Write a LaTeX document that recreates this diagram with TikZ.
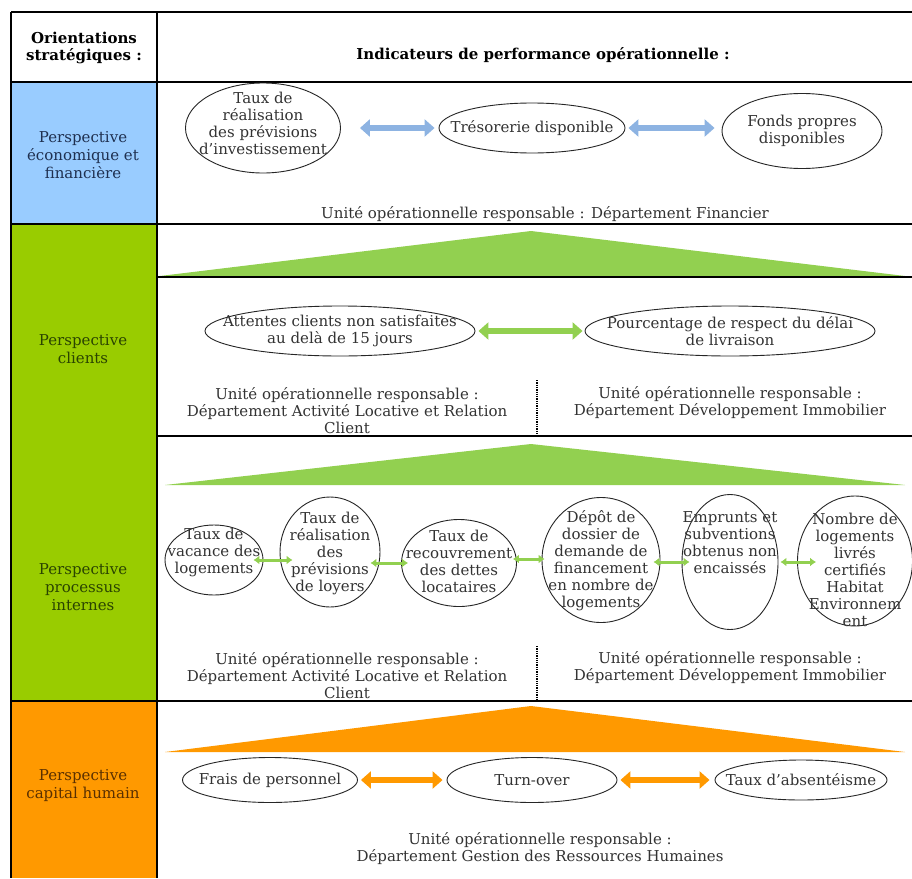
\documentclass[tikz,border=0pt]{standalone}
\usepackage{fontspec}
\setmainfont{DejaVu Serif}
\usetikzlibrary{shapes.geometric,arrows.meta}
\definecolor{cblue}{HTML}{99CCFF}
\definecolor{cgreen}{HTML}{99CC00}
\definecolor{tgreen}{HTML}{92D050}
\definecolor{corange}{HTML}{FF9900}
\definecolor{ablue}{HTML}{8DB3E2}
\definecolor{txtgray}{HTML}{333333}
\definecolor{lblblue}{HTML}{1F3050}
\definecolor{lblgreen}{HTML}{2A4400}
\definecolor{lblorange}{HTML}{5A3000}
\begin{document}
\begin{tikzpicture}[x=1pt,y=-1pt,
  ell/.style={ellipse, draw=black!85, line width=0.9pt, fill=white, inner sep=0pt},
  txt/.style={align=center, font=\fontsize{15}{17}\selectfont, text=txtgray, inner sep=0pt},
  head/.style={align=center, font=\bfseries\fontsize{15}{17}\selectfont, text=black, inner sep=0pt},
  side/.style={align=center, font=\fontsize{15}{18}\selectfont, inner sep=0pt},
  rule/.style={line width=1.1pt, black},
  fatarrow/.style={line width=6pt, {Triangle[length=10pt,width=17pt]}-{Triangle[length=10pt,width=17pt]}},
  thinarrow/.style={line width=3pt, tgreen, {Latex[length=6pt,width=9pt]}-{Latex[length=6pt,width=9pt]}},
  sepline/.style={line width=1.3pt, densely dotted, black}
]
\useasboundingbox (0,0) rectangle (912,878);
\fill[white] (0,0) rectangle (912,878);

% left column fills
\fill[cblue] (11,82) rectangle (157,224);
\fill[cgreen] (11,224) rectangle (157,701);
\fill[corange] (11,701) rectangle (157,878);

% triangles
\fill[tgreen] (160,276) -- (531,231) -- (905,276) -- cycle;
\fill[tgreen] (165,485) -- (531,444) -- (905,485) -- cycle;
\fill[corange] (165,752) -- (531,706) -- (905,752) -- cycle;

% table rules
\draw[rule] (11,12) -- (912,12);
\draw[rule] (11,82) -- (912,82);
\draw[rule] (11,224) -- (912,224);
\draw[rule] (157,277) -- (912,277);
\draw[rule] (157,436) -- (912,436);
\draw[rule] (11,701) -- (912,701);
\draw[rule] (11,12) -- (11,878);
\draw[rule] (157,12) -- (157,878);

% header
\node[head] (h1) at (84,48) {Orientations\\stratégiques :};
\node[head] (h2) at (543,55) {Indicateurs de performance opérationnelle :};

% side labels
\node[side, text=lblblue] (s1) at (83,155) {Perspective\\économique et\\financière};
\node[side, text=lblgreen] (s2) at (83,349) {Perspective\\clients};
\node[side, text=lblgreen] (s3) at (83,587) {Perspective\\processus\\internes};
\node[side, text=lblorange] (s4) at (83,786) {Perspective\\capital humain};

% economic / financial
\node[ell, minimum width=155pt, minimum height=90pt] (e1) at (263,128) {};
\node[txt] (e1t) at (263,123) {Taux de\\réalisation\\des prévisions\\d’investissement};
\node[ell, minimum width=186pt, minimum height=50pt] (e2) at (532,128) {};
\node[txt] (e2t) at (532,128) {Trésorerie disponible};
\node[ell, minimum width=160pt, minimum height=75pt] (e3) at (802,131) {};
\node[txt] (e3t) at (802,131) {Fonds propres\\disponibles};
\draw[fatarrow, ablue, shorten <=19pt, shorten >=4pt] (e1.east |- e2.west) -- (e2.west);
\draw[fatarrow, ablue, shorten <=3pt, shorten >=7pt] (e2.east) -- (e3.west |- e2.east);
\node[txt] (e4) at (545,214) {Unité opérationnelle responsable : Département Financier};

% clients
\node[ell, minimum width=270pt, minimum height=50pt] (c1) at (340,331) {};
\node[txt] (c1t) at (340,331) {Attentes clients non satisfaites\\au delà de 15 jours};
\node[ell, minimum width=290pt, minimum height=50pt] (c2) at (730,331) {};
\node[txt] (c2t) at (730,331) {Pourcentage de respect du délai\\de livraison};
\draw[fatarrow, tgreen, shorten <=3pt, shorten >=2pt] (c1.east) -- (c2.west);
\node[txt] (c3) at (347,411) {Unité opérationnelle responsable :\\Département Activité Locative et Relation\\Client};
\node[txt] (c4) at (730,403) {Unité opérationnelle responsable :\\Département Développement Immobilier};
\coordinate (d1a) at (537,380);
\coordinate (d1b) at (537,436);
\draw[sepline] (d1a) -- (d1b);

% processus internes
\node[ell, minimum width=98pt, minimum height=70pt] (p1) at (214,560) {};
\node[txt] (p1t) at (214,552) {Taux de\\vacance des\\logements};
\node[ell, minimum width=100pt, minimum height=110pt] (p2) at (330,552) {};
\node[txt] (p2t) at (330,553) {Taux de\\réalisation\\des\\prévisions\\de loyers};
\node[ell, minimum width=115pt, minimum height=87pt] (p3) at (459,563) {};
\node[txt] (p3t) at (459,561) {Taux de\\recouvrement\\des dettes\\locataires};
\node[ell, minimum width=118pt, minimum height=125pt] (p4) at (601,560) {};
\node[txt] (p4t) at (601,561) {Dépôt de\\dossier de\\demande de\\financement\\en nombre de\\logements};
\node[ell, minimum width=96pt, minimum height=135pt] (p5) at (730,562) {};
\node[txt] (p5t) at (730,543) {Emprunts et\\subventions\\obtenus non\\encaissés};
\node[ell, minimum width=115pt, minimum height=130pt] (p6) at (855,561) {};
\node[txt] (p6t) at (855,570) {Nombre de\\logements\\livrés\\certifiés\\Habitat\\Environnem\\ent};
\draw[thinarrow] ([xshift=-10pt]p1.east) -- ([xshift=13pt]p2.west |- p1.east);
\draw[thinarrow] ([xshift=-10pt]p2.east |- p3.west) -- ([xshift=7pt]p3.west);
\draw[thinarrow] ([xshift=-4pt,yshift=4pt]p3.east) -- ([xshift=3pt,yshift=4pt]p4.west |- p3.east);
\draw[thinarrow] ([xshift=-7pt]p4.east |- p5.west) -- ([xshift=8pt]p5.west);
\draw[thinarrow] ([xshift=2pt]p5.east) -- ([xshift=19pt]p6.west |- p5.east);
\node[txt] (p7) at (347,676) {Unité opérationnelle responsable :\\Département Activité Locative et Relation\\Client};
\node[txt] (p8) at (730,668) {Unité opérationnelle responsable :\\Département Développement Immobilier};
\coordinate (d2a) at (537,646);
\coordinate (d2b) at (537,701);
\draw[sepline] (d2a) -- (d2b);

% capital humain
\node[ell, minimum width=175pt, minimum height=45pt] (o1) at (270,780) {};
\node[txt] (o1t) at (270,780) {Frais de personnel};
\node[ell, minimum width=170pt, minimum height=45pt] (o2) at (532,780) {};
\node[txt] (o2t) at (532,780) {Turn-over};
\node[ell, minimum width=172pt, minimum height=40pt] (o3) at (801,780) {};
\node[txt] (o3t) at (801,780) {Taux d’absentéisme};
\draw[fatarrow, corange, shorten <=3pt, shorten >=4pt] (o1.east) -- (o2.west);
\draw[fatarrow, corange, shorten <=3pt, shorten >=5pt] (o2.east) -- (o3.west);
\node[txt] (o4) at (540,849) {Unité opérationnelle responsable :\\Département Gestion des Ressources Humaines};
\end{tikzpicture}
\end{document}
